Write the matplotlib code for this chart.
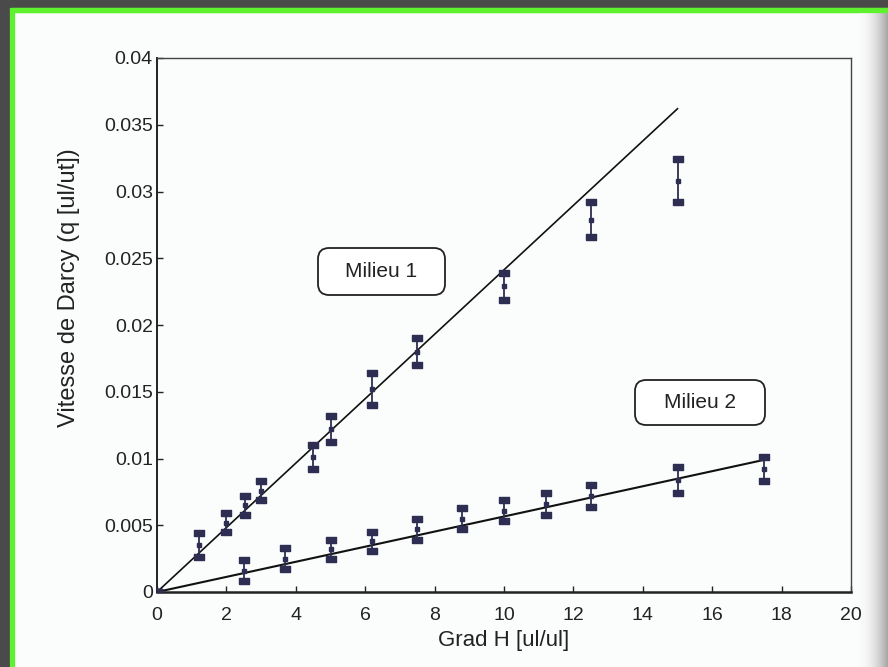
import matplotlib
matplotlib.use("Agg")
import matplotlib.pyplot as plt
import numpy as np
from matplotlib.patches import Rectangle, FancyBboxPatch

plt.rcParams['font.family'] = ['Liberation Sans', 'DejaVu Sans']

# Milieu 1 data
m1_x = [0, 1.2, 2.0, 2.55, 3.0, 4.5, 5.0, 6.2, 7.5, 10.0, 12.5, 15.0]
m1_y = [0, 0.0035, 0.0052, 0.0065, 0.0076, 0.0101, 0.0122, 0.0152, 0.0180, 0.0229, 0.0279, 0.0308]
m1_err = [0, 0.0009, 0.0007, 0.0007, 0.0007, 0.0009, 0.0010, 0.0012, 0.0010, 0.0010, 0.0013, 0.0016]
m1_line_x = [0, 15.0]
m1_line_y = [0, 0.0362]

# Milieu 2 data
m2_x = [0, 2.5, 3.7, 5.0, 6.2, 7.5, 8.8, 10.0, 11.2, 12.5, 15.0, 17.5]
m2_y = [0, 0.0016, 0.0025, 0.0032, 0.0038, 0.0047, 0.0055, 0.0061, 0.0066, 0.0072, 0.0084, 0.0092]
m2_err = [0, 0.0008, 0.0008, 0.0007, 0.0007, 0.0008, 0.0008, 0.0008, 0.0008, 0.0008, 0.0010, 0.0009]
m2_line_x = [0, 17.5]
m2_line_y = [0, 0.0099]

x_ticks = [0, 2, 4, 6, 8, 10, 12, 14, 16, 18, 20]
y_ticks = [0, 0.005, 0.01, 0.015, 0.02, 0.025, 0.03, 0.035, 0.04]
y_tick_labels = ["0", "0.005", "0.01", "0.015", "0.02", "0.025", "0.03", "0.035", "0.04"]

W, H = 888, 667
fig = plt.figure(figsize=(W / 100, H / 100), dpi=100)
fig.patch.set_facecolor('#4a4a4a')

# background frame (pixel coordinates, y up)
bg = fig.add_axes([0, 0, 1, 1], zorder=-5)
bg.set_xlim(0, W)
bg.set_ylim(0, H)
bg.axis('off')
bg.add_patch(Rectangle((12, -20), W + 40, H - 9.5 + 20, facecolor='#fbfcfc',
                       edgecolor='#5ef22e', linewidth=3.8, zorder=0))
# scan shadow on the right edge
grad = np.linspace(0, 1, 30) ** 2
shade = np.ones((2, 30, 3))
for i in range(3):
    shade[:, :, i] = 0.985 - grad * 0.33
bg.imshow(shade, extent=(858, 888, 0, H - 12), aspect='auto', zorder=1)
bg.add_patch(Rectangle((12, H - 12), W + 40, 20, facecolor='none',
                       edgecolor='none', zorder=2))
bg.plot([12, W + 10], [H - 9.5, H - 9.5], color='#5ef22e', lw=3.8, zorder=2,
        solid_capstyle='butt')
bg.set_xlim(0, W)
bg.set_ylim(0, H)

ax = fig.add_axes([157 / W, 1 - 592 / H, (851 - 157) / W, (592 - 58) / H], zorder=1)
ax.set_facecolor('none')

mk = '#2e2e52'
cap_marker = [(-1.4, -0.9), (1.4, -0.9), (1.4, 0.9), (-1.4, 0.9), (-1.4, -0.9)]
for xs, ys, es in [(m1_x, m1_y, m1_err), (m2_x, m2_y, m2_err)]:
    ax.errorbar(xs, ys, yerr=es, fmt='s', color=mk, ms=3, elinewidth=1.3,
                capsize=0, zorder=3)
    lo = [y - e for y, e in zip(ys, es)]
    hi = [y + e for y, e in zip(ys, es)]
    ax.plot(xs, lo, marker=cap_marker, color=mk, ms=7, zorder=3, linestyle='none')
    ax.plot(xs, hi, marker=cap_marker, color=mk, ms=7, zorder=3, linestyle='none')

ax.plot(m1_line_x, m1_line_y, color='#111111', lw=1.2, zorder=2)
ax.plot(m2_line_x, m2_line_y, color='#111111', lw=1.5, zorder=2)

ax.set_xlim(0, 20)
ax.set_ylim(0, 0.04)
ax.set_xticks(x_ticks)
ax.set_xticklabels([str(t) for t in x_ticks])
ax.set_yticks(y_ticks)
ax.set_yticklabels(y_tick_labels)
ax.tick_params(axis='both', direction='in', length=4, width=1, labelsize=14,
               colors='#222222')
ax.tick_params(axis='x', pad=11)
ax.tick_params(axis='y', pad=3)
for s in ax.spines.values():
    s.set_linewidth(1.0)
    s.set_color('#444444')
ax.spines['bottom'].set_linewidth(1.8)
ax.spines['bottom'].set_color('#222222')
ax.spines['left'].set_linewidth(1.4)
ax.spines['left'].set_color('#222222')

ax.set_xlabel('Grad H [ul/ul]', fontsize=16, color='#222222')
ax.xaxis.set_label_coords(0.5, -0.071)
ax.set_ylabel('Vitesse de Darcy (q [ul/ut])', fontsize=17, color='#222222')
ax.yaxis.set_label_coords(-0.111, 0.57)

# annotation boxes (pixel coords from top-left converted to bg coords)
for label, (x0, x1, y0, y1) in [('Milieu 1', (318, 445, 248, 295)),
                                ('Milieu 2', (635, 765, 380, 425))]:
    bg.add_patch(FancyBboxPatch((x0, H - y1), x1 - x0, y1 - y0,
                                boxstyle='round,pad=0,rounding_size=11',
                                facecolor='white', edgecolor='#222222',
                                linewidth=1.3, zorder=3))
    bg.text((x0 + x1) / 2, H - (y0 + y1) / 2, label, fontsize=15,
            ha='center', va='center', color='#222222', zorder=4)

fig.savefig('out.png', dpi=100, facecolor=fig.get_facecolor())
